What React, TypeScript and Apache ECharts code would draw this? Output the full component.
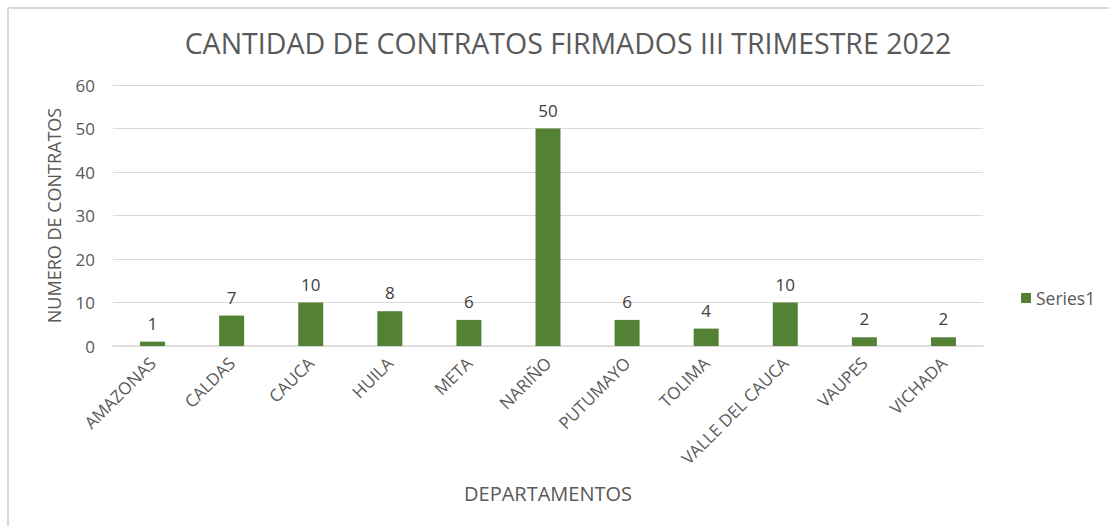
import React, { useEffect, useRef } from "react";
import * as echarts from "echarts";

const categories = ["AMAZONAS", "CALDAS", "CAUCA", "HUILA", "META", "NARIÑO", "PUTUMAYO", "TOLIMA", "VALLE DEL CAUCA", "VAUPES", "VICHADA"];
const values = [1, 7, 10, 8, 6, 50, 6, 4, 10, 2, 2];
const yTicks = { min: 0, max: 60, interval: 10 };

const FONT = "'Open Sans', 'Noto Sans', sans-serif";
const TXT = "#595959";

export default function App() {
  const ref = useRef<HTMLDivElement>(null);
  useEffect(() => {
    if (!ref.current) return;
    const chart = echarts.init(ref.current, undefined, { renderer: "svg" });
    chart.setOption({
      animation: false,
      backgroundColor: "#ffffff",
      title: {
        text: "CANTIDAD DE CONTRATOS FIRMADOS III TRIMESTRE 2022",
        left: 563,
        top: 23,
        textAlign: "center",
        textStyle: { fontFamily: FONT, fontSize: 28.5, fontWeight: "normal", color: TXT },
      },
      legend: {
        data: ["Series1"],
        orient: "vertical",
        left: 1016,
        top: 284,
        itemWidth: 10,
        itemHeight: 10,
        itemGap: 6,
        icon: "rect",
        textStyle: { fontFamily: FONT, fontSize: 17.5, color: TXT },
      },
      grid: { left: 113, right: 126, top: 85, bottom: 180, containLabel: false },
      xAxis: {
        type: "category",
        data: categories,
        name: "DEPARTAMENTOS",
        nameLocation: "middle",
        nameGap: 137,
        nameTextStyle: { fontFamily: FONT, fontSize: 20, color: TXT },
        axisLine: { lineStyle: { color: "#d9d9d9", width: 1.5 } },
        axisTick: { show: false },
        axisLabel: { rotate: 45, fontFamily: FONT, fontSize: 17, color: TXT, margin: 14, interval: 0 },
      },
      yAxis: {
        type: "value",
        min: yTicks.min,
        max: yTicks.max,
        interval: yTicks.interval,
        name: "NUMERO DE CONTRATOS",
        nameLocation: "middle",
        nameGap: 50,
        nameTextStyle: { fontFamily: FONT, fontSize: 18, color: TXT },
        axisLine: { show: false },
        axisTick: { show: false },
        axisLabel: { fontFamily: FONT, fontSize: 17, color: TXT, margin: 18 },
        splitLine: { lineStyle: { color: "#d9d9d9", width: 1 } },
      },
      series: [
        {
          name: "Series1",
          type: "bar",
          data: values,
          barWidth: 25,
          itemStyle: { color: "#548235" },
          label: {
            show: true,
            position: "top",
            distance: 10,
            fontFamily: FONT,
            fontSize: 17,
            color: "#404040",
          },
        },
      ],
      graphic: [
        { type: "line", shape: { x1: 8, y1: 8, x2: 1109, y2: 8 }, style: { stroke: "#d9d9d9", lineWidth: 2 } },
        { type: "line", shape: { x1: 8, y1: 8, x2: 8, y2: 526 }, style: { stroke: "#d9d9d9", lineWidth: 2 } },
      ],
    });
    return () => chart.dispose();
  }, []);
  return <div ref={ref} style={{ position: "fixed", left: 0, top: 0, width: 1109, height: 526 }} />;
}
